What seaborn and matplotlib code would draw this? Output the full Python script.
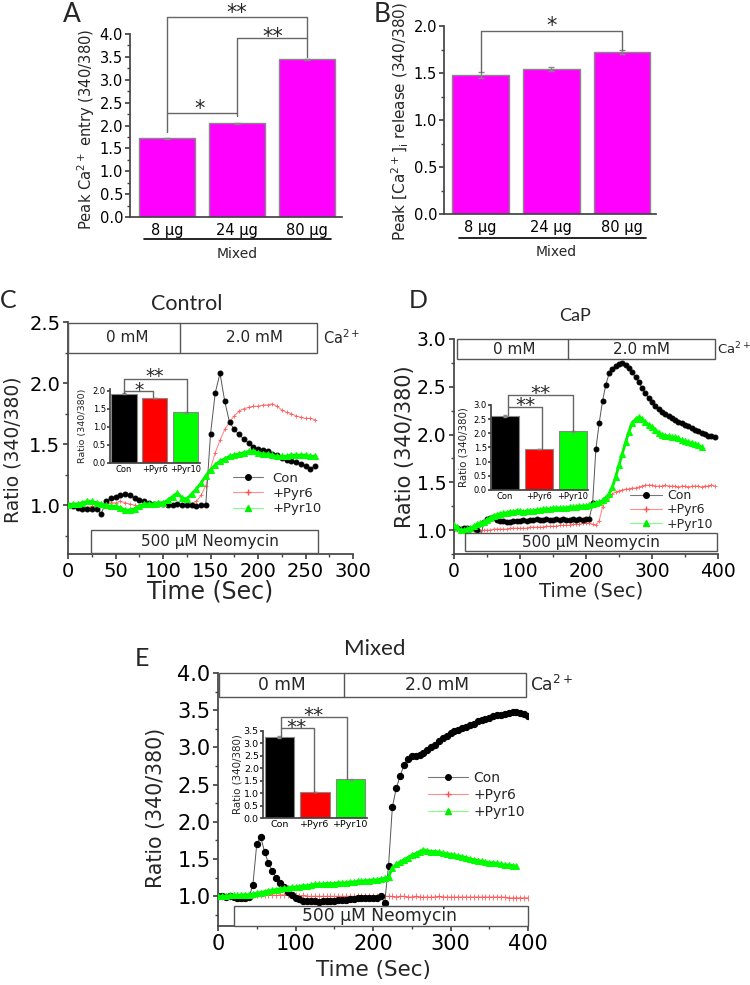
import numpy as np
import pandas as pd
import matplotlib
matplotlib.use("Agg")
import matplotlib.pyplot as plt
import seaborn as sns
from matplotlib.patches import Rectangle
from matplotlib.lines import Line2D
from matplotlib.ticker import MultipleLocator, FormatStrFormatter

# ---------------- data ----------------
dose_labels = ["8 μg", "24 μg", "80 μg"]
entry_peak = [1.72, 2.05, 3.45]
entry_err = [0.01, 0.015, 0.01]
release_peak = [1.48, 1.54, 1.72]
release_err = [0.03, 0.02, 0.02]

groups = ["Con", "+Pyr6", "+Pyr10"]
ctrl_bar = [1.92, 1.80, 1.40]
ctrl_bar_err = [0.02, 0.01, 0.01]
cap_bar = [2.62, 1.45, 2.07]
cap_bar_err = [0.03, 0.01, 0.01]
mixed_bar = [3.25, 1.05, 1.55]
mixed_bar_err = [0.03, 0.01, 0.01]

# traces sampled every 5 s
ctrl_time = np.arange(0, 261, 5)
ctrl_con = [1.00, 0.99, 0.98, 0.97, 0.97, 0.97, 0.97, 0.93, 1.03, 1.06,
            1.07, 1.08, 1.09, 1.08, 1.06, 1.04, 1.03, 1.02, 1.01, 1.01,
            1.01, 1.00, 1.00, 1.01, 1.00, 1.00, 1.00, 0.99, 1.00, 1.00,
            1.58, 1.92, 2.08, 1.85, 1.68, 1.62, 1.58, 1.54, 1.51, 1.48,
            1.46, 1.45, 1.44, 1.42, 1.41, 1.39, 1.37, 1.36, 1.35, 1.34,
            1.32, 1.30, 1.32]
ctrl_pyr6 = [1.00, 0.99, 0.98, 0.98, 0.98, 0.99, 0.99, 1.00, 1.01, 1.02,
             1.02, 1.03, 1.02, 1.01, 1.00, 0.99, 1.00, 1.01, 1.01, 1.01,
             1.01, 1.00, 1.00, 1.00, 1.00, 1.00, 1.01, 1.03, 1.08, 1.16,
             1.30, 1.43, 1.53, 1.62, 1.68, 1.73, 1.77, 1.79, 1.80, 1.81,
             1.81, 1.82, 1.82, 1.83, 1.81, 1.78, 1.76, 1.75, 1.73, 1.72,
             1.71, 1.71, 1.70]
ctrl_pyr10 = [1.00, 1.01, 1.01, 1.02, 1.03, 1.03, 1.02, 1.01, 1.00, 0.99,
              0.99, 0.98, 0.96, 0.96, 0.97, 0.99, 1.01, 1.01, 1.01, 1.02,
              1.02, 1.04, 1.07, 1.10, 1.06, 1.05, 1.09, 1.13, 1.18, 1.24,
              1.29, 1.33, 1.36, 1.38, 1.40, 1.41, 1.42, 1.43, 1.44, 1.44,
              1.43, 1.42, 1.42, 1.41, 1.40, 1.40, 1.40, 1.41, 1.41, 1.41,
              1.41, 1.40, 1.40]

cap_time = np.arange(0, 396, 5)
cap_con = [1.02, 1.02, 1.01, 1.02, 1.02, 1.01, 1.02, 1.00, 0.91, 1.08,
           1.12, 1.13, 1.14, 1.11, 1.10, 1.10, 1.09, 1.09, 1.10, 1.10,
           1.10, 1.11, 1.10, 1.11, 1.11, 1.12, 1.11, 1.11, 1.12, 1.11,
           1.11, 1.12, 1.11, 1.12, 1.11, 1.11, 1.12, 1.11, 1.12, 1.11,
           1.12, 1.12, 1.28, 1.85, 2.12, 2.35, 2.52, 2.64, 2.69, 2.72,
           2.74, 2.75, 2.73, 2.70, 2.65, 2.60, 2.55, 2.49, 2.43, 2.38,
           2.34, 2.30, 2.27, 2.24, 2.21, 2.19, 2.17, 2.15, 2.13, 2.12,
           2.10, 2.09, 2.07, 2.05, 2.04, 2.02, 2.01, 1.99, 1.98, 1.97]
cap_pyr6 = [1.02, 1.01, 1.00, 1.00, 0.99, 0.99, 0.99, 0.99, 0.99, 1.00,
            1.00, 1.00, 1.01, 1.01, 1.01, 1.01, 1.01, 1.02, 1.02, 1.02,
            1.02, 1.02, 1.02, 1.03, 1.03, 1.03, 1.03, 1.03, 1.04, 1.04,
            1.04, 1.04, 1.05, 1.05, 1.05, 1.05, 1.06, 1.06, 1.06, 1.07,
            1.07, 1.07, 1.06, 1.05, 1.10, 1.24, 1.31, 1.35, 1.38, 1.40,
            1.41, 1.42, 1.43, 1.43, 1.44, 1.44, 1.45, 1.46, 1.47, 1.47,
            1.47, 1.46, 1.46, 1.46, 1.47, 1.46, 1.46, 1.46, 1.45, 1.46,
            1.46, 1.45, 1.46, 1.46, 1.46, 1.45, 1.46, 1.46, 1.47, 1.46]
cap_pyr10 = [1.05, 1.03, 1.00, 1.00, 1.01, 1.02, 1.04, 1.06, 1.07, 1.09,
             1.11, 1.13, 1.15, 1.16, 1.17, 1.18, 1.18, 1.19, 1.19, 1.20,
             1.20, 1.19, 1.20, 1.20, 1.20, 1.21, 1.21, 1.22, 1.22, 1.22,
             1.23, 1.23, 1.23, 1.23, 1.23, 1.24, 1.24, 1.24, 1.25, 1.25,
             1.25, 1.26, 1.27, 1.28, 1.29, 1.31, 1.34, 1.38, 1.45, 1.56,
             1.68, 1.80, 1.92, 2.03, 2.12, 2.16, 2.18, 2.16, 2.13, 2.10,
             2.08, 2.05, 2.02, 2.00, 1.99, 1.98, 1.97, 1.97, 1.96, 1.94,
             1.93, 1.92, 1.91, 1.90, 1.89, 1.87]

mix_time = np.arange(0, 401, 5)
mix_con = [1.00, 1.00, 0.99, 1.00, 0.99, 0.98, 0.98, 0.98, 0.99, 1.15,
           1.70, 1.80, 1.60, 1.45, 1.34, 1.25, 1.18, 1.12, 1.06, 1.02,
           0.98, 0.96, 0.94, 0.93, 0.93, 0.93, 0.92, 0.93, 0.94, 0.94,
           0.94, 0.95, 0.95, 0.95, 0.96, 0.96, 0.97, 0.97, 0.97, 0.98,
           0.98, 0.98, 1.00, 0.91, 1.40, 2.20, 2.45, 2.62, 2.76, 2.85,
           2.88, 2.88, 2.90, 2.93, 2.97, 3.00, 3.03, 3.08, 3.12, 3.16,
           3.19, 3.22, 3.24, 3.26, 3.28, 3.30, 3.32, 3.35, 3.37, 3.38,
           3.40, 3.42, 3.43, 3.44, 3.45, 3.46, 3.47, 3.47, 3.46, 3.45, 3.42]
mix_pyr6 = [1.00, 1.00, 0.99, 1.00, 0.99, 0.99, 1.00, 1.00, 1.00, 1.01,
            1.01, 1.01, 1.02, 1.02, 1.02, 1.01, 1.02, 1.02, 1.01, 1.01,
            1.01, 1.00, 1.01, 1.00, 1.00, 1.00, 1.00, 1.00, 1.00, 1.00,
            1.00, 1.00, 1.00, 1.00, 1.00, 1.00, 1.00, 1.00, 1.00, 1.00,
            1.00, 1.00, 1.00, 1.00, 1.00, 1.00, 0.99, 1.00, 1.00, 0.99,
            0.99, 1.00, 0.99, 0.99, 0.99, 0.99, 0.99, 1.00, 0.99, 0.99,
            0.99, 0.99, 0.99, 0.99, 0.99, 0.99, 0.99, 0.99, 0.99, 0.99,
            0.99, 0.99, 0.99, 0.99, 0.99, 0.98, 0.98, 0.98, 0.98, 0.98, 0.98]
mix_pyr10 = [1.00, 1.00, 1.00, 1.01, 1.01, 1.01, 1.02, 1.02, 1.02, 1.03,
             1.04, 1.05, 1.06, 1.07, 1.08, 1.09, 1.10, 1.11, 1.11, 1.12,
             1.12, 1.13, 1.14, 1.14, 1.15, 1.16, 1.16, 1.16, 1.17, 1.17,
             1.17, 1.18, 1.18, 1.18, 1.19, 1.19, 1.20, 1.20, 1.21, 1.21,
             1.22, 1.22, 1.23, 1.24, 1.26, 1.38, 1.43, 1.46, 1.49, 1.52,
             1.55, 1.57, 1.60, 1.62, 1.61, 1.60, 1.60, 1.59, 1.58, 1.57,
             1.56, 1.55, 1.54, 1.53, 1.52, 1.50, 1.49, 1.48, 1.47, 1.46,
             1.45, 1.45, 1.44, 1.43, 1.42, 1.42, 1.41, 1.40]

# ---------------- style ----------------
sns.set_theme(style="ticks")
plt.rcParams["font.family"] = ["DejaVu Sans"]
plt.rcParams["mathtext.fontset"] = "dejavusans"
plt.rcParams["axes.edgecolor"] = "#444444"
plt.rcParams["xtick.color"] = "#444444"
plt.rcParams["ytick.color"] = "#444444"
plt.rcParams["xtick.labelcolor"] = "black"
plt.rcParams["ytick.labelcolor"] = "black"
HEAD = ["Lato", "DejaVu Sans"]

W, H = 750, 985
fig = plt.figure(figsize=(7.5, 9.85), dpi=100)


def fx(px):
    return px / W


def fy(py):
    return 1 - py / H


def add_ax(left, top, right, bottom):
    return fig.add_axes([fx(left), fy(bottom), (right - left) / W, (bottom - top) / H])


def ftext(x, y, s, size, **kw):
    fig.text(fx(x), fy(y), s, fontsize=size, ha=kw.pop("ha", "center"),
             va=kw.pop("va", "center"), **kw)


def fline(x0, x1, y, lw=1.2):
    fig.add_artist(Line2D([fx(x0), fx(x1)], [fy(y), fy(y)], color="black", lw=lw))


def bracket(ax, xs, ys, color="#666666", lw=1):
    ax.plot(xs, ys, color=color, lw=lw, clip_on=False, zorder=5)


def stars(ax, x, y, s, size):
    ax.text(x, y, s, ha="center", va="center", fontsize=size, clip_on=False)


def dose_bars(ax, vals, errs, ymax):
    df = pd.DataFrame({"dose": dose_labels, "peak": vals})
    sns.barplot(data=df, x="dose", y="peak", color="#ff00ff", saturation=1,
                edgecolor="#888888", linewidth=1, width=0.8, errorbar=None, ax=ax)
    ax.errorbar(range(3), vals, yerr=errs, fmt="none", ecolor="#888888",
                elinewidth=1, capsize=2)
    ax.set_ylim(0, ymax)
    ax.set_xlabel("")
    ax.yaxis.set_major_locator(MultipleLocator(0.5))
    ax.yaxis.set_major_formatter(FormatStrFormatter("%.1f"))
    ax.yaxis.set_minor_locator(MultipleLocator(0.25))
    ax.tick_params(axis="x", length=0, pad=4, labelsize=10.5)
    ax.tick_params(axis="y", which="major", length=3.5, labelsize=10.5, pad=1.5)
    ax.tick_params(axis="y", which="minor", length=2)
    sns.despine(ax=ax)


def inset_bars(ax, vals, errs, ymax, tsize, lsize):
    df = pd.DataFrame({"group": groups, "ratio": vals})
    sns.barplot(data=df, x="group", y="ratio", hue="group",
                palette=["black", "#ff0000", "#00ff00"], saturation=1, legend=False,
                edgecolor="#888888", linewidth=0.8, width=0.82, errorbar=None, ax=ax)
    ax.errorbar(range(3), vals, yerr=errs, fmt="none", ecolor="#888888",
                elinewidth=0.8, capsize=1.5)
    ax.set_ylim(0, ymax)
    ax.set_xlabel("")
    ax.set_ylabel("Ratio (340/380)", fontsize=lsize)
    ax.yaxis.set_major_locator(MultipleLocator(0.5))
    ax.yaxis.set_major_formatter(FormatStrFormatter("%.1f"))
    ax.tick_params(axis="x", length=0, pad=1.5, labelsize=tsize)
    ax.tick_params(axis="y", length=2, pad=1, labelsize=tsize)
    ax.patch.set_alpha(0)
    sns.despine(ax=ax)


def traces(ax, t, con, pyr6, pyr10, ms):
    sns.lineplot(x=t[:len(pyr6)], y=pyr6, color="#ff7070", marker="+", markersize=ms,
                 markeredgecolor="#ff5050", markeredgewidth=0.7, lw=0.8, alpha=0.8, ax=ax)
    sns.lineplot(x=t[:len(con)], y=con, color="#555555", marker="o", markersize=ms,
                 markerfacecolor="black", markeredgecolor="black", lw=0.7, ax=ax, zorder=3)
    sns.lineplot(x=t[:len(pyr10)], y=pyr10, color="#00ee00", marker="^", markersize=ms + 0.5,
                 markerfacecolor="#00ff00", markeredgecolor="#00ff00", lw=2, ax=ax, zorder=4)
    sns.despine(ax=ax)


def style_trace_ax(ax, xmax, ylo, yhi, xmaj, xmin, tsize, xl_size, yl_size):
    ax.set_xlim(0, xmax)
    ax.set_ylim(ylo, yhi)
    ax.xaxis.set_major_locator(MultipleLocator(xmaj))
    ax.xaxis.set_minor_locator(MultipleLocator(xmin))
    ax.yaxis.set_major_locator(MultipleLocator(0.5))
    ax.yaxis.set_minor_locator(MultipleLocator(0.25))
    ax.tick_params(which="major", length=3.5, labelsize=tsize, pad=2)
    ax.tick_params(which="minor", length=2)
    ax.set_xlabel("Time (Sec)", fontsize=xl_size)
    ax.set_ylabel("Ratio (340/380)", fontsize=yl_size)


def boxes(ax, ca, neo, split, ca_txt, neo_txt, size, ca_size):
    # Ca2+ box (two segments) and neomycin box
    x0, x1, y0, y1 = ca
    ax.add_patch(Rectangle((x0, y0), x1 - x0, y1 - y0, fill=False, ec="#555555",
                           lw=1, clip_on=False, zorder=6))
    ax.plot([split, split], [y0, y1], color="#555555", lw=1, clip_on=False, zorder=6)
    ax.text(ca_txt[0], (y0 + y1) / 2, "0 mM", ha="center", va="center", fontsize=size)
    ax.text(ca_txt[1], (y0 + y1) / 2, "2.0 mM", ha="center", va="center", fontsize=size)
    ax.text(ca_txt[2], (y0 + y1) / 2, "Ca$^{2+}$", ha="left", va="center",
            fontsize=ca_size, clip_on=False)
    n0, n1, m0, m1 = neo
    ax.add_patch(Rectangle((n0, m0), n1 - n0, m1 - m0, fc="white", ec="#555555",
                           lw=1, clip_on=False, zorder=6))
    ax.text(neo_txt, (m0 + m1) / 2, "500 μM Neomycin", ha="center", va="center",
            fontsize=size, zorder=7)


def legend(ax, x, y, size, hl, tp, ls):
    handles = [
        Line2D([], [], color="#777777", lw=0.8, marker="o", ms=4,
               mfc="black", mec="black"),
        Line2D([], [], color="#ff9090", lw=0.8, marker="+", ms=5, mec="#ff5050"),
        Line2D([], [], color="#80ff80", lw=0.8, marker="^", ms=5,
               mfc="#00ee00", mec="#00ee00"),
    ]
    ax.legend(handles, groups, loc="upper left", bbox_to_anchor=(fx(x), fy(y)),
              bbox_transform=fig.transFigure, frameon=False, fontsize=size,
              handlelength=hl, handletextpad=tp, labelspacing=ls,
              borderpad=0, borderaxespad=0)


# ---------------- panel A ----------------
axA = add_ax(130, 34, 342, 217)
dose_bars(axA, entry_peak, entry_err, 4.0)
axA.set_xlim(-0.53, 2.5)
axA.set_ylabel("Peak Ca$^{2+}$ entry (340/380)", fontsize=10.6)
axA.yaxis.set_label_coords(-0.155, 0.48)
bracket(axA, [0, 0, 2, 2], [1.85, 4.37, 4.37, 3.50])
bracket(axA, [1, 1, 2], [2.20, 3.91, 3.91])
bracket(axA, [0, 1], [2.27, 2.27])
stars(axA, 1, 4.46, "**", 15)
stars(axA, 1.51, 3.93, "**", 15)
stars(axA, 0.47, 2.36, "*", 15)
fline(144, 331, 239)
ftext(237, 254, "Mixed", 10)
ftext(72, 14, "A", 19, family=HEAD)

# ---------------- panel B ----------------
axB = add_ax(444, 26, 656, 214)
dose_bars(axB, release_peak, release_err, 2.0)
axB.set_xlim(-0.52, 2.48)
axB.set_ylabel("Peak [Ca$^{2+}$]$_{\\mathrm{i}}$ release (340/380)", fontsize=11)
axB.yaxis.set_label_coords(-0.155, 0.49)
bracket(axB, [0, 0, 2, 2], [1.51, 1.95, 1.95, 1.74])
stars(axB, 1, 2.0, "*", 15)
fline(459, 646, 238)
ftext(556, 252, "Mixed", 10)
ftext(382, 14, "B", 19, family=HEAD)

# ---------------- panel C ----------------
axC = add_ax(68, 322, 353, 554)
traces(axC, ctrl_time, ctrl_con, ctrl_pyr6, ctrl_pyr10, 3.5)
style_trace_ax(axC, 300, 0.6, 2.5, 50, 25, 14, 17, 13.5)
axC.yaxis.set_label_coords(-0.158, 0.45)
axC.xaxis.set_label_coords(0.5, -0.112)
boxes(axC, (0.5, 262, 2.25, 2.49), (24, 263, 0.605, 0.80), 118,
      (62, 196, 268), 149, 11, 10.5)
legend(axC, 233, 472, 9.5, 2.3, 0.68, 0.16)
ftext(187, 304, "Control", 15.5, family=HEAD)
ftext(8, 300, "C", 18, family=HEAD)

insC = add_ax(110, 389, 200, 463)
inset_bars(insC, ctrl_bar, ctrl_bar_err, 2.05, 6, 6.8)
insC.set_xlim(-0.45, 2.47)
insC.yaxis.set_label_coords(-0.25, 0.5)
bracket(insC, [0, 0, 2.05, 2.05], [1.95, 2.33, 2.33, 1.42])
bracket(insC, [0, 0.95, 0.95], [2.0, 2.0, 1.84])
stars(insC, 1.0, 2.39, "**", 13.5)
stars(insC, 0.5, 2.0, "*", 13.5)

# ---------------- panel D ----------------
axD = add_ax(454, 339, 718, 554)
traces(axD, cap_time, cap_con, cap_pyr6, cap_pyr10, 3.5)
style_trace_ax(axD, 400, 0.75, 3.0, 100, 50, 13.5, 14, 15)
axD.yaxis.set_label_coords(-0.148, 0.5)
axD.xaxis.set_label_coords(0.52, -0.126)
boxes(axD, (4, 395, 2.79, 3.0), (17, 399, 0.78, 0.965), 173,
      (92, 284, 398), 208, 11, 9.5)
legend(axD, 630, 489, 9, 2.56, 0.4, 0.11)
ftext(575, 316, "CaP", 13, family=HEAD)
ftext(418, 301, "D", 18, family=HEAD)

insD = add_ax(491, 405, 588, 490)
inset_bars(insD, cap_bar, cap_bar_err, 3.0, 6, 7.4)
insD.set_xlim(-0.41, 2.44)
insD.yaxis.set_label_coords(-0.23, 0.5)
bracket(insD, [0.1, 0.1, 2.0, 2.0], [2.64, 3.35, 3.35, 2.08])
bracket(insD, [0.1, 1.1, 1.1], [2.93, 2.93, 1.46])
stars(insD, 1.05, 3.40, "**", 14.4)
stars(insD, 0.6, 2.98, "**", 14.4)

# ---------------- panel E ----------------
axE = add_ax(218, 673, 528, 926)
traces(axE, mix_time, mix_con, mix_pyr6, mix_pyr10, 4.5)
style_trace_ax(axE, 400, 0.6, 4.0, 100, 50, 15, 15.5, 14.8)
axE.yaxis.set_label_coords(-0.168, 0.466)
axE.xaxis.set_label_coords(0.5, -0.134)
boxes(axE, (1, 398, 3.68, 4.0), (20, 400, 0.605, 0.875), 162,
      (82, 282, 403), 209, 12.3, 12.3)
legend(axE, 428, 771, 10, 2.9, 0.36, 0.2)
ftext(375, 649, "Mixed", 16, family=HEAD)
ftext(142, 658, "E", 18, family=HEAD)

insE = add_ax(263, 731, 367, 818)
inset_bars(insE, mixed_bar, mixed_bar_err, 3.5, 6.8, 7.4)
insE.set_xlim(-0.46, 2.46)
insE.yaxis.set_label_coords(-0.2, 0.5)
bracket(insE, [0.05, 0.05, 1.9, 1.9], [3.27, 4.06, 4.06, 1.56])
bracket(insE, [0.05, 0.96, 0.96], [3.61, 3.61, 1.06])
stars(insE, 0.97, 4.14, "**", 14.4)
stars(insE, 0.47, 3.65, "**", 14.4)

fig.savefig("out.png", dpi=100)
